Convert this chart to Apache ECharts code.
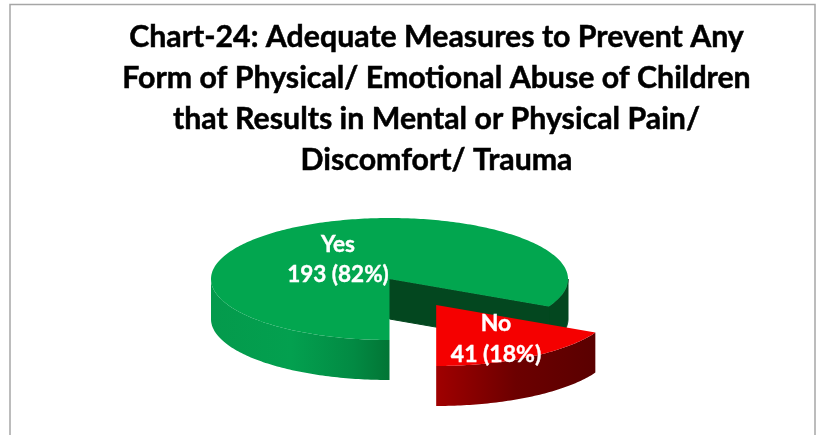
<!DOCTYPE html>
<html>
<head>
<meta charset="utf-8">
<style>
html, body { margin: 0; padding: 0; background: #fff; }
#main { width: 817px; height: 435px; }
</style>
<script src="https://cdn.jsdelivr.net/npm/echarts@6/dist/echarts.min.js"></script>
</head>
<body>
<div id="main"></div>
<script>
const categories = ['Yes', 'No'];
const counts = [193, 41];
const percentLabels = ['82%', '18%'];
const titleLines = [
    'Chart-24: Adequate Measures to Prevent Any',
    'Form of Physical/ Emotional Abuse of Children',
    'that Results in Mental or Physical Pain/',
    'Discomfort/ Trauma'
];

// pie geometry, ellipse because the 3d look is faked
const cx = 389.5, cy = 279, rx = 178.5, ry = 61, depth = 40;
const explodeNo = 0.5;
const startAngle = 90; // degrees clockwise from 3 o'clock, first slice starts at 6 o'clock

const total = counts.reduce((a, b) => a + b, 0);

function pt(ox, oy, deg, dz) {
    const a = deg * Math.PI / 180;
    return [ox + rx * Math.cos(a), oy + ry * Math.sin(a) + (dz || 0)];
}

function arc(ox, oy, from, to, dz) {
    const pts = [];
    const n = Math.max(2, Math.ceil(Math.abs(to - from)));
    for (let i = 0; i <= n; i++) {
        pts.push(pt(ox, oy, from + (to - from) * i / n, dz));
    }
    return pts;
}

function hgrad(stops) {
    return {
        type: 'linear', x: 0, y: 0, x2: 1, y2: 0,
        colorStops: stops.map((s) => ({ offset: s[0], color: s[1] }))
    };
}

function wall(ox, oy, from, to, fill, stroke) {
    const top = arc(ox, oy, from, to, 0);
    const bottom = arc(ox, oy, to, from, depth);
    return {
        type: 'polygon',
        shape: { points: top.concat(bottom) },
        style: { fill: fill, stroke: stroke || null, lineWidth: 1 }
    };
}

function drawYes(from, to) {
    const end = pt(cx, cy, to, 0);
    const kids = [];
    // inner cut face and the back right part of the rim
    kids.push(wall(cx, cy, 360, to, '#03471f', '#03471f'));
    kids.push({
        type: 'polygon',
        shape: { points: [[cx, cy], end, [end[0], end[1] + depth], [cx, cy + depth]] },
        style: { fill: '#03471f', stroke: '#03471f', lineWidth: 1 }
    });
    // front rim from 6 o'clock round to 9 o'clock
    kids.push(wall(cx, cy, from, 180, hgrad([
        [0, '#049a4c'], [0.45, '#03a04f'], [0.8, '#028a43'], [1, '#027535']
    ])));
    kids.push({
        type: 'polygon',
        shape: { points: [[cx, cy]].concat(arc(cx, cy, from, to, 0)) },
        style: { fill: '#02a64f' }
    });
    return kids;
}

function drawNo(from, to) {
    const mid = (from + to) / 2 * Math.PI / 180;
    const ox = cx + rx * explodeNo * Math.cos(mid);
    const oy = cy + ry * explodeNo * Math.sin(mid);
    return [
        wall(ox, oy, from, to, hgrad([[0, '#a00000'], [0.5, '#6c0000'], [1, '#5a0000']])),
        {
            type: 'polygon',
            shape: { points: [[ox, oy]].concat(arc(ox, oy, from, to, 0)) },
            style: { fill: '#f50000' }
        }
    ];
}

const labelPos = [[338, 260], [496, 339]];
const labelSize = [22.5, 23];
const labelLine = [30, 31];

function renderSlice(params, api) {
    const i = params.dataIndex;
    let before = 0;
    for (let k = 0; k < i; k++) before += counts[k];
    const from = startAngle + before / total * 360;
    const to = from + api.value(0) / total * 360;
    const kids = i === 0 ? drawYes(from, to) : drawNo(from - 360, to - 360);
    kids.push({
        type: 'text',
        x: labelPos[i][0],
        y: labelPos[i][1],
        style: {
            text: categories[i] + '\n' + api.value(0) + ' (' + percentLabels[i] + ')',
            fill: '#fff',
            stroke: '#fff',
            lineWidth: 0.4,
            font: 'bold ' + labelSize[i] + 'px Lato',
            lineHeight: labelLine[i],
            align: 'center',
            verticalAlign: 'middle'
        }
    });
    return { type: 'group', children: kids };
}

const chart = echarts.init(document.getElementById('main'), null, { renderer: 'canvas' });
chart.setOption({
    animation: false,
    backgroundColor: '#fff',
    title: {
        text: titleLines.join('\n'),
        left: 436.5,
        top: 17,
        padding: 0,
        textAlign: 'center',
        textStyle: {
            color: '#000', fontFamily: 'Lato', fontWeight: 'bold', fontSize: 30.3, lineHeight: 41,
            textBorderColor: '#000', textBorderWidth: 0.5
        }
    },
    graphic: [{
        type: 'rect',
        shape: { x: 10, y: 4.5, width: 805, height: 440 },
        style: { fill: 'none', stroke: '#a6a6a6', lineWidth: 1.5 }
    }],
    series: [{
        type: 'custom',
        coordinateSystem: 'none',
        renderItem: renderSlice,
        data: counts.map((v) => [v])
    }]
});
window.addEventListener('resize', () => chart.resize());
</script>
</body>
</html>
